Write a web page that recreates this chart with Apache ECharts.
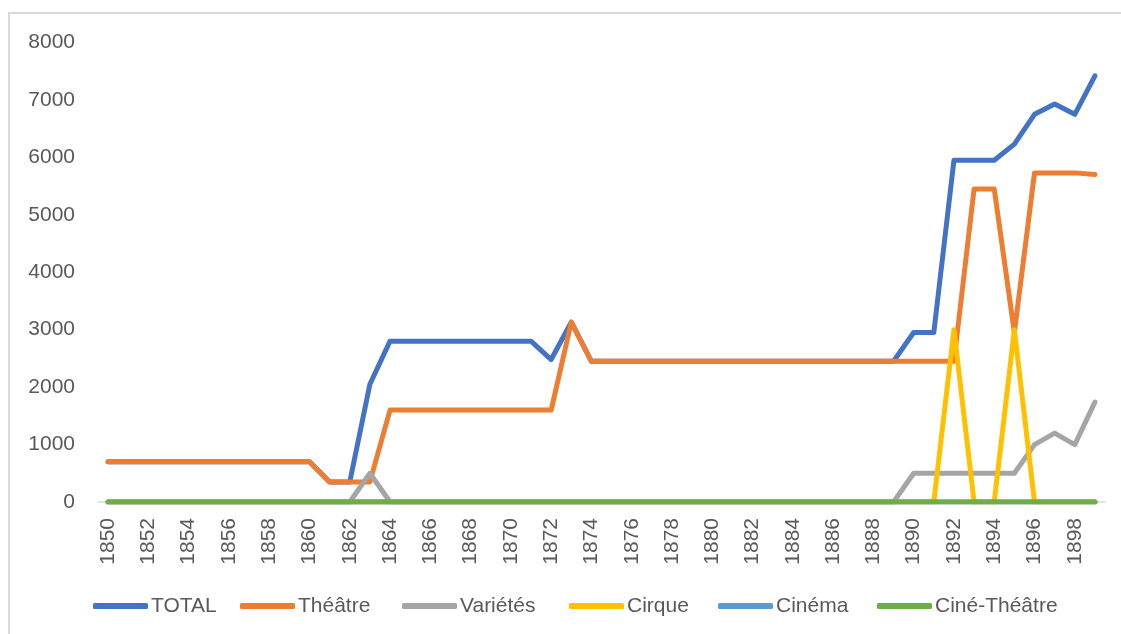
<!DOCTYPE html>
<html>
<head>
<meta charset="utf-8">
<script src="https://cdn.jsdelivr.net/npm/echarts@6/dist/echarts.min.js"></script>
<style>
html,body{margin:0;padding:0;background:#fff;}
#chart{width:1121px;height:634px;}
</style>
</head>
<body>
<div id="chart"></div>
<script>
var years = [];
for (var y = 1850; y <= 1899; y++) { years.push(String(y)); }

var seriesNames = ['TOTAL', 'Théâtre', 'Variétés', 'Cirque', 'Cinéma', 'Ciné-Théâtre'];
var seriesColors = ['#4472C4', '#ED7D31', '#A5A5A5', '#FFC000', '#5B9BD5', '#70AD47'];

// 1850 ... 1899
var total = [
  700, 700, 700, 700, 700, 700, 700, 700, 700, 700,
  700, 350, 350, 2050, 2800, 2800, 2800, 2800, 2800, 2800,
  2800, 2800, 2480, 3130, 2450, 2450, 2450, 2450, 2450, 2450,
  2450, 2450, 2450, 2450, 2450, 2450, 2450, 2450, 2450, 2450,
  2950, 2950, 5950, 5950, 5950, 6230, 6750, 6930, 6750, 7420
];
var theatre = [
  700, 700, 700, 700, 700, 700, 700, 700, 700, 700,
  700, 350, 350, 350, 1600, 1600, 1600, 1600, 1600, 1600,
  1600, 1600, 1600, 3130, 2450, 2450, 2450, 2450, 2450, 2450,
  2450, 2450, 2450, 2450, 2450, 2450, 2450, 2450, 2450, 2450,
  2450, 2450, 2450, 5450, 5450, 2950, 5730, 5730, 5730, 5700
];
var varietes = [
  0, 0, 0, 0, 0, 0, 0, 0, 0, 0,
  0, 0, 0, 500, 0, 0, 0, 0, 0, 0,
  0, 0, 0, 0, 0, 0, 0, 0, 0, 0,
  0, 0, 0, 0, 0, 0, 0, 0, 0, 0,
  500, 500, 500, 500, 500, 500, 1000, 1200, 1000, 1740
];
var cirque = [
  0, 0, 0, 0, 0, 0, 0, 0, 0, 0,
  0, 0, 0, 0, 0, 0, 0, 0, 0, 0,
  0, 0, 0, 0, 0, 0, 0, 0, 0, 0,
  0, 0, 0, 0, 0, 0, 0, 0, 0, 0,
  0, 0, 3000, 0, 0, 3000, 0, 0, 0, 0
];
var cinema = [
  0, 0, 0, 0, 0, 0, 0, 0, 0, 0,
  0, 0, 0, 0, 0, 0, 0, 0, 0, 0,
  0, 0, 0, 0, 0, 0, 0, 0, 0, 0,
  0, 0, 0, 0, 0, 0, 0, 0, 0, 0,
  0, 0, 0, 0, 0, 0, 0, 0, 0, 0
];
var cineTheatre = [
  0, 0, 0, 0, 0, 0, 0, 0, 0, 0,
  0, 0, 0, 0, 0, 0, 0, 0, 0, 0,
  0, 0, 0, 0, 0, 0, 0, 0, 0, 0,
  0, 0, 0, 0, 0, 0, 0, 0, 0, 0,
  0, 0, 0, 0, 0, 0, 0, 0, 0, 0
];
var allData = [total, theatre, varietes, cirque, cinema, cineTheatre];
var legendLefts = [93, 240, 402, 569, 718, 877];

var FONT = '"Liberation Sans", Arial, sans-serif';
var TXT = '#595959';

var chart = echarts.init(document.getElementById('chart'), null, {renderer: 'canvas'});

var series = seriesNames.map(function (n, i) {
  return {
    name: n,
    type: 'line',
    data: allData[i],
    symbol: 'none',
    smooth: false,
    color: seriesColors[i],
    lineStyle: {width: 5, color: seriesColors[i], cap: 'round', join: 'round'},
    emphasis: {disabled: true},
    animation: false
  };
});

var legends = seriesNames.map(function (n, i) {
  return {
    data: [n],
    left: legendLefts[i],
    top: 594,
    padding: 0,
    icon: 'roundRect',
    itemWidth: 55,
    itemHeight: 6,
    selectedMode: false,
    textStyle: {fontFamily: FONT, fontSize: 21, color: TXT, lineHeight: 24, padding: [0, 0, 0, -2]}
  };
});

chart.setOption({
  animation: false,
  backgroundColor: '#fff',
  graphic: [{
    type: 'rect',
    shape: {x: 9, y: 13, width: 1200, height: 700},
    style: {fill: 'none', stroke: '#d9d9d9', lineWidth: 2},
    silent: true
  }],
  grid: {left: 98, right: 16, top: 42.5, bottom: 132},
  legend: legends,
  xAxis: {
    type: 'category',
    data: years,
    boundaryGap: true,
    axisLine: {show: true, lineStyle: {color: '#d9d9d9', width: 1.5}},
    axisTick: {show: false},
    axisLabel: {
      interval: 1,
      rotate: 90,
      margin: 16,
      fontFamily: FONT,
      fontSize: 21,
      color: TXT
    },
    splitLine: {show: false}
  },
  yAxis: {
    type: 'value',
    min: 0,
    max: 8000,
    interval: 1000,
    axisLine: {show: false},
    axisTick: {show: false},
    splitLine: {show: false},
    axisLabel: {
      margin: 23, fontFamily: FONT, fontSize: 21, color: TXT,
      formatter: function (v) { return String(v); }
    }
  },
  series: series
});
</script>
</body>
</html>
